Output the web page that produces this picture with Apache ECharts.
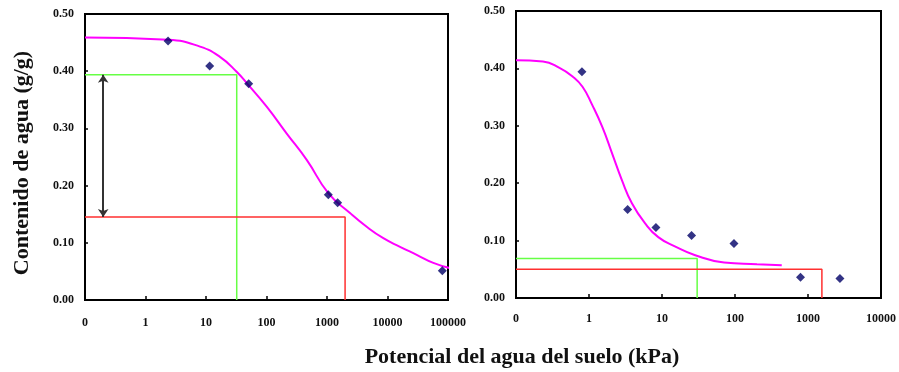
<!DOCTYPE html>
<html>
<head>
<meta charset="utf-8">
<script src="https://cdn.jsdelivr.net/npm/echarts@6/dist/echarts.min.js"></script>
<style>
  html, body { margin: 0; padding: 0; background: #fff; }
  #chart { width: 899px; height: 372px; }
</style>
</head>
<body>
<div id="chart"></div>
<script>
// left panel (kPa, g/g)
const leftPointsX = [2.36, 11.5, 50.8, 1051, 1500, 80500];
const leftPointsY = [0.453, 0.409, 0.378, 0.184, 0.170, 0.051];
const leftCurveX = [0.1, 2.38, 7.96, 17.0, 32.1, 50, 100.7, 216, 462, 1050, 2400, 4530, 8530, 16100, 30400, 57200, 115000];
const leftCurveY = [0.459, 0.455, 0.443, 0.425, 0.399, 0.376, 0.338, 0.291, 0.245, 0.187, 0.152, 0.128, 0.108, 0.093, 0.079, 0.065, 0.055];
const leftGreenX = [0.1, 32.2, 32.2];
const leftGreenY = [0.394, 0.394, 0];
const leftRedX = [0.1, 1990, 1990];
const leftRedY = [0.145, 0.145, 0];
const arrowX = [0.2, 0.2];
const arrowY = [0.394, 0.145];

// right panel
const rightPointsX = [0.8, 3.38, 8.26, 25.4, 96.8, 789, 2740];
const rightPointsY = [0.394, 0.154, 0.123, 0.109, 0.095, 0.036, 0.034];
const rightCurveX = [0.1, 0.234, 0.394, 0.596, 0.815, 1.11, 1.52, 2.07, 2.83, 3.87, 5.87, 8.89, 15.0, 27.9, 71, 200, 437];
const rightCurveY = [0.414, 0.412, 0.401, 0.386, 0.368, 0.336, 0.298, 0.252, 0.205, 0.165, 0.130, 0.106, 0.090, 0.075, 0.062, 0.059, 0.057];
const rightGreenX = [0.1, 30.3, 30.3];
const rightGreenY = [0.069, 0.069, 0];
const rightRedX = [0.1, 1550, 1550];
const rightRedY = [0.050, 0.050, 0];

const yTitle = "Contenido de agua (g/g)";
const xTitle = "Potencial del agua del suelo (kPa)";

const zip = (xs, ys) => xs.map((x, i) => [x, ys[i]]);

const font = "Liberation Serif";
const tickLabel = {
    fontFamily: font,
    fontWeight: "bold",
    fontSize: 12,
    color: "#111"
};

function xAxisFor(gridIndex, max, margin) {
    return {
        type: "log",
        logBase: 10,
        gridIndex: gridIndex,
        min: 0.1,
        max: max,
        axisLine: { lineStyle: { color: "#000", width: 2 } },
        axisTick: { inside: true, length: 4, lineStyle: { color: "#000", width: 1.5 } },
        axisLabel: Object.assign({
            margin: margin,
            formatter: v => (v < 1 ? "0" : String(Math.round(v)))
        }, tickLabel),
        splitLine: { show: false },
        minorTick: { show: false }
    };
}

function yAxisFor(gridIndex) {
    return {
        type: "value",
        gridIndex: gridIndex,
        min: 0,
        max: 0.5,
        interval: 0.1,
        axisLine: { show: true, lineStyle: { color: "#000", width: 2 } },
        axisTick: { show: true, inside: true, length: 3, lineStyle: { color: "#000", width: 1.5 } },
        axisLabel: Object.assign({
            margin: 11,
            formatter: v => v.toFixed(2)
        }, tickLabel),
        splitLine: { show: false }
    };
}

function line(idx, data, color, width, smooth) {
    return {
        type: "line",
        xAxisIndex: idx,
        yAxisIndex: idx,
        data: data,
        symbol: "none",
        smooth: smooth || false,
        clip: false,
        lineStyle: { color: color, width: width },
        z: 2
    };
}

function points(idx, data) {
    return {
        type: "scatter",
        xAxisIndex: idx,
        yAxisIndex: idx,
        data: data,
        symbol: "diamond",
        symbolSize: 9,
        itemStyle: { color: "#000066" },
        z: 5
    };
}

const chart = echarts.init(document.getElementById("chart"));

chart.setOption({
    backgroundColor: "#fff",
    animation: false,
    grid: [
        { left: 85, top: 14, width: 363, height: 286, show: true, borderColor: "#000", borderWidth: 2 },
        { left: 516, top: 11, width: 370, height: 287, show: true, borderColor: "#000", borderWidth: 2 }
    ],
    xAxis: [xAxisFor(0, 100000, 17), xAxisFor(1, 10000, 15)],
    yAxis: [yAxisFor(0), yAxisFor(1)],
    graphic: [
        {
            type: "text",
            x: 22,
            y: 163,
            rotation: Math.PI / 2,
            style: {
                text: yTitle,
                font: "bold 22px 'Liberation Serif'",
                fill: "#111",
                align: "center",
                verticalAlign: "middle"
            }
        },
        {
            type: "text",
            x: 522,
            y: 357,
            style: {
                text: xTitle,
                font: "bold 22px 'Liberation Serif'",
                fill: "#111",
                align: "center",
                verticalAlign: "middle"
            }
        }
    ],
    series: [
        line(0, zip(leftGreenX, leftGreenY), "#66ff44", 1.5),
        line(0, zip(leftRedX, leftRedY), "#ff3030", 1.5),
        {
            type: "lines",
            coordinateSystem: "cartesian2d",
            xAxisIndex: 0,
            yAxisIndex: 0,
            data: [{ coords: zip(arrowX, arrowY) }],
            symbol: ["arrow", "arrow"],
            symbolSize: 8,
            lineStyle: { color: "#333", width: 2, opacity: 1 },
            z: 3
        },
        line(0, zip(leftCurveX, leftCurveY), "#ff00ff", 2, 0.5),
        points(0, zip(leftPointsX, leftPointsY)),

        line(1, zip(rightGreenX, rightGreenY), "#66ff44", 1.5),
        line(1, zip(rightRedX, rightRedY), "#ff3030", 1.5),
        line(1, zip(rightCurveX, rightCurveY), "#ff00ff", 2, 0.5),
        points(1, zip(rightPointsX, rightPointsY))
    ]
});
</script>
</body>
</html>
